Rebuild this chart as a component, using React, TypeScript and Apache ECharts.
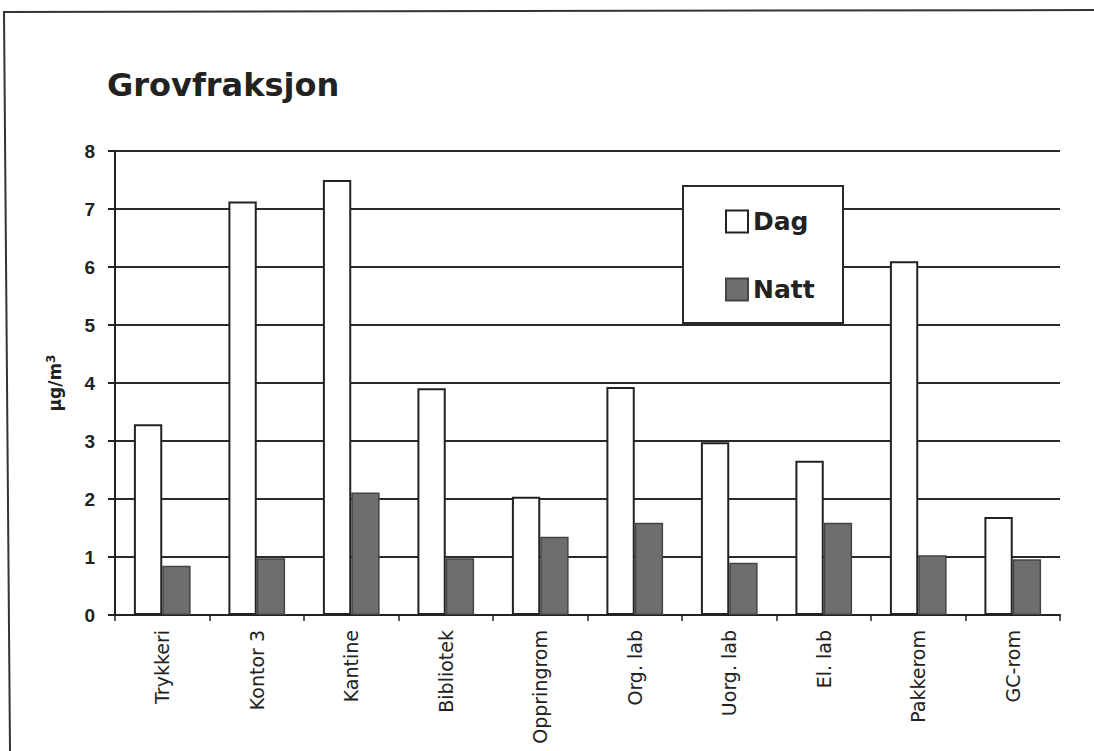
import React, { useEffect, useRef } from "react";
import * as echarts from "echarts";

const categories = ["Trykkeri", "Kontor 3", "Kantine", "Bibliotek", "Oppringrom", "Org. lab", "Uorg. lab", "El. lab", "Pakkerom", "GC-rom"];
const dagValues = [3.29, 7.13, 7.5, 3.91, 2.04, 3.93, 2.98, 2.66, 6.1, 1.69];
const nattValues = [0.85, 0.98, 2.11, 0.98, 1.35, 1.59, 0.9, 1.59, 1.03, 0.96];
const seriesNames = ["Dag", "Natt"];
const yTicks = { min: 0, max: 8, interval: 1 };

const ARIAL = "'Liberation Sans', Arial, sans-serif";
const WIDE = "'DejaVu Sans', sans-serif";

export default function App() {
  const ref = useRef<HTMLDivElement>(null);
  useEffect(() => {
    if (!ref.current) return;
    const chart = echarts.init(ref.current, null, { renderer: "svg" });
    chart.setOption({
      animation: false,
      backgroundColor: "#ffffff",
      textStyle: { fontFamily: ARIAL },
      title: {
        text: "Grovfraksjon",
        left: 102,
        top: 64,
        textStyle: { fontFamily: WIDE, fontSize: 32, fontWeight: "bold", color: "#222" },
      },
      grid: { left: 115, right: 34, top: 151, bottom: 136 },
      xAxis: {
        type: "category",
        data: categories,
        axisLine: { lineStyle: { color: "#222", width: 2 } },
        axisTick: { show: true, length: 6, lineStyle: { color: "#222", width: 1.5 } },
        axisLabel: {
          rotate: 90,
          fontFamily: WIDE,
          fontSize: 19,
          color: "#222",
          margin: 15,
        },
      },
      yAxis: {
        type: "value",
        min: yTicks.min,
        max: yTicks.max,
        interval: yTicks.interval,
        name: "µg/m{sup|3}",
        nameLocation: "middle",
        nameGap: 50,
        nameRotate: 90,
        nameTextStyle: {
          fontFamily: WIDE,
          fontSize: 17,
          fontWeight: "bold",
          color: "#222",
          rich: {
            sup: { fontFamily: WIDE, fontSize: 12, fontWeight: "bold", color: "#222", verticalAlign: "top", padding: [0, 0, 8, 0] },
          },
        },
        axisLine: { show: true, lineStyle: { color: "#222", width: 2 } },
        axisTick: { show: true, length: 7, lineStyle: { color: "#222", width: 2 } },
        axisLabel: { fontFamily: ARIAL, fontSize: 19, fontWeight: "bold", color: "#222", margin: 20 },
        splitLine: { show: true, lineStyle: { color: "#2a2a2a", width: 2 } },
      },
      legend: {
        orient: "vertical",
        left: 720,
        top: 204,
        itemGap: 43,
        itemWidth: 22,
        itemHeight: 22,
        icon: "rect",
        textStyle: { fontFamily: WIDE, fontSize: 25, fontWeight: "bold", color: "#222", lineHeight: 22, padding: [0, 0, 0, 0] },
        data: seriesNames,
        z: 20,
      },
      graphic: [
        {
          type: "rect",
          shape: { x: 683, y: 186, width: 160, height: 137 },
          style: { fill: "#ffffff", stroke: "#2a2a2a", lineWidth: 2 },
          z: 10,
        },
        {
          type: "polyline",
          shape: { points: [[10, 751], [4, 12], [1094, 10]] },
          style: { fill: "none", stroke: "#333", lineWidth: 2 },
          z: 10,
        },
      ],
      series: [
        {
          name: seriesNames[0],
          type: "bar",
          data: dagValues,
          barCategoryGap: "40%",
          barGap: "0%",
          itemStyle: { color: "#ffffff", borderColor: "#222", borderWidth: 2 },
        },
        {
          name: seriesNames[1],
          type: "bar",
          data: nattValues,
          itemStyle: { color: "#6e6e6e", borderColor: "#444", borderWidth: 1.5 },
        },
      ],
    });
    return () => chart.dispose();
  }, []);
  return (
    <div
      ref={ref}
      style={{ position: "absolute", left: 0, top: 0, width: 1094, height: 751 }}
    />
  );
}
